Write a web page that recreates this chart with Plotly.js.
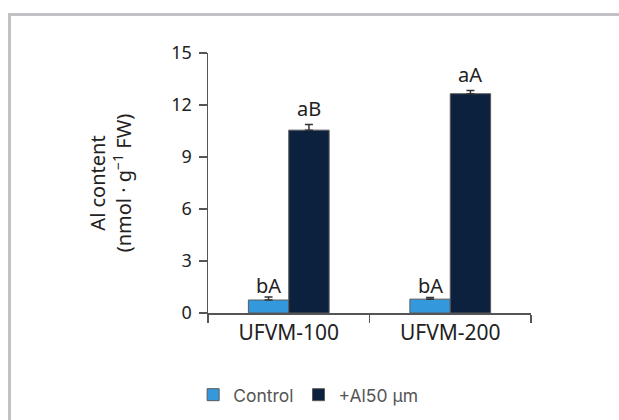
<!DOCTYPE html>
<html>
<head>
<meta charset="utf-8">
<script src="https://cdn.plot.ly/plotly-3.0.1.min.js"></script>
<style>
  html, body { margin: 0; padding: 0; background: #fff; overflow: hidden; }
  #chart { position: absolute; left: 0; top: 0; width: 619px; height: 420px; }
  #frame { position: absolute; left: 8px; top: 13px; width: 700px; height: 500px;
           border-top: 3px solid #c2c2c6; border-left: 3px solid #c2c2c6; pointer-events: none; }
</style>
</head>
<body>
<div id="chart"></div>
<div id="frame"></div>
<script>
const categories = ["UFVM-100", "UFVM-200"];
const controlValues = [0.75, 0.80];
const controlErrors = [0.17, 0.10];
const alValues = [10.55, 12.65];
const alErrors = [0.33, 0.19];
const controlLetters = ["bA", "bA"];
const alLetters = ["aB", "aA"];
const yTicks = [0, 3, 6, 9, 12, 15];

const font = "Noto Sans, Open Sans, sans-serif";

const traces = [
  {
    type: "bar", name: "Control", x: categories, y: controlValues,
    marker: { color: "#3399dc", line: { color: "#5a5a5a", width: 1 } },
    error_y: { type: "data", symmetric: false, array: controlErrors, arrayminus: [0, 0],
               color: "#333", thickness: 1.5, width: 4 }
  },
  {
    type: "bar", name: "+Al50 μm", x: categories, y: alValues,
    marker: { color: "#0b213e", line: { color: "#5a5a5a", width: 1 } },
    error_y: { type: "data", symmetric: false, array: alErrors, arrayminus: [0, 0],
               color: "#333", thickness: 1.5, width: 4 }
  }
];

const annotations = [];
categories.forEach((c, i) => {
  annotations.push({ x: i - 0.125, y: controlValues[i] + controlErrors[i], xref: "x", yref: "y",
    text: controlLetters[i], showarrow: false, yanchor: "bottom", yshift: -4,
    font: { family: font, size: 20, color: "#222" } });
  annotations.push({ x: i + 0.125, y: alValues[i] + alErrors[i], xref: "x", yref: "y",
    text: alLetters[i], showarrow: false, yanchor: "bottom", yshift: 0,
    font: { family: font, size: 20, color: "#222" } });
});

const layout = {
  width: 619, height: 420,
  margin: { l: 208, r: 88, t: 53, b: 107 },
  paper_bgcolor: "#fff", plot_bgcolor: "#fff",
  barmode: "group", bargap: 0.5, bargroupgap: 0,
  showlegend: true,
  legend: { orientation: "h", xref: "container", yref: "container",
            x: 0.312, xanchor: "left", y: 0.06, yanchor: "middle",
            font: { family: "Inter, sans-serif", size: 17.5, color: "#555" },
            traceorder: "normal", itemwidth: 30 },
  xaxis: {
    type: "category", range: [-0.5, 1.5], tickson: "boundaries",
    ticks: "outside", ticklen: 8, tickwidth: 1.5, tickcolor: "#555",
    showline: true, linecolor: "#555", linewidth: 1.5, showgrid: false, zeroline: false,
    tickfont: { family: font, size: 21, color: "#222" }
  },
  xaxis2: {
    overlaying: "x", range: [-0.5, 1.5], tickvals: [-0.5, 0.5, 1.5],
    ticks: "inside", ticklen: 8, tickwidth: 1.5, tickcolor: "#555",
    showticklabels: false, showgrid: false, zeroline: false, showline: false, fixedrange: true
  },
  yaxis: {
    range: [0, 15], tickvals: yTicks, ticks: "outside", ticklen: 8, tickwidth: 1.5, tickcolor: "#555",
    showline: true, linecolor: "#555", linewidth: 1.5, showgrid: false, zeroline: false,
    ticklabelstandoff: 3,
    tickfont: { family: font, size: 18, color: "#222" },
    title: { text: "Al content<br>(nmol · g<sup>−1</sup> FW)", standoff: 34,
             font: { family: font, size: 20, color: "#222" } }
  },
  annotations: annotations
};

Plotly.newPlot("chart", traces, layout, { staticPlot: true, displayModeBar: false });
</script>
</body>
</html>
